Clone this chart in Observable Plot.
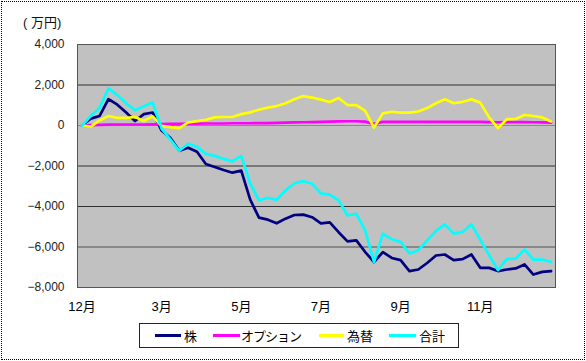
<!DOCTYPE html>
<html><head><meta charset="utf-8">
<script src="https://cdn.jsdelivr.net/npm/d3@7"></script>
<script src="https://cdn.jsdelivr.net/npm/@observablehq/plot@0.6"></script>
<style>
html,body{margin:0;padding:0;background:#fff;}
#wrap{position:relative;width:586px;height:361px;overflow:hidden;font-family:"Liberation Sans","Noto Sans CJK JP",sans-serif;}
#border{position:absolute;left:1px;top:1px;width:584px;height:359px;box-sizing:border-box;border:1px dotted #000;pointer-events:none;}
#chart{position:absolute;left:0;top:0;}
#unit{position:absolute;left:23px;top:14px;font-size:13px;line-height:17px;color:#111;font-family:"Liberation Sans","Noto Sans CJK JP",sans-serif;}
#legend{position:absolute;left:139px;top:323px;width:320px;height:25px;box-sizing:border-box;border:1px solid #222;background:#fff;}
.sw{position:absolute;height:3px;top:10px;}
.lt{position:absolute;top:3px;font-size:13px;line-height:17px;color:#000;font-family:"Noto Sans CJK JP",sans-serif;}
</style>
</head><body>
<div id="wrap">
  <div id="chart"></div>
  <div id="unit">( 万円)</div>
  <div id="legend"></div>
  <div id="border"></div>
</div>
<script>
// x categories: weekly points; labels every 9 points
const tickIdx = [0, 9, 18, 27, 36, 45];
const tickLabels = ["12月", "3月", "5月", "7月", "9月", "11月"];
const yTicks = [4000, 2000, 0, -2000, -4000, -6000, -8000];

const seriesNames = ["株", "オプション", "為替", "合計"];
const seriesColors = ["#000080", "#ff00ff", "#ffff00", "#00ffff"];

const kabu = [0, 340, 470, 1300, 1030, 640, 220, 560, 640, -250, -620, -1250, -1100, -1300, -1900, -2050, -2200, -2330, -2230, -3650, -4550, -4650, -4830, -4600, -4420, -4400, -4530, -4830, -4780, -5270, -5720, -5670, -6250, -6740, -6250, -6540, -6650, -7190, -7110, -6790, -6420, -6370, -6650, -6600, -6370, -7030, -7030, -7190, -7110, -7060, -6860, -7360, -7230, -7190];
const option = [0, 20, 30, 40, 50, 50, 50, 50, 60, 70, 80, 80, 90, 90, 100, 100, 100, 110, 110, 110, 120, 120, 130, 140, 150, 160, 170, 180, 190, 200, 210, 210, 190, 80, 180, 180, 180, 180, 180, 180, 180, 180, 180, 180, 180, 180, 170, 160, 170, 170, 170, 160, 150, 140];
const kawase = [0, -50, 250, 470, 380, 380, 420, 220, 450, -20, -80, -130, 150, 220, 280, 400, 420, 420, 560, 650, 780, 880, 960, 1100, 1300, 1450, 1380, 1280, 1160, 1360, 1010, 1010, 720, -100, 600, 680, 640, 640, 690, 860, 1100, 1300, 1100, 1170, 1290, 1130, 400, -130, 310, 320, 520, 470, 400, 200];
const gokei = [0, 470, 880, 1830, 1500, 1100, 750, 950, 1130, -150, -700, -1250, -900, -1050, -1400, -1500, -1650, -1770, -1500, -2850, -3700, -3570, -3670, -3210, -2850, -2750, -2880, -3350, -3410, -3700, -4440, -4360, -5180, -6740, -5340, -5620, -5750, -6320, -6160, -5670, -5200, -4880, -5340, -5260, -4880, -5650, -6400, -7140, -6590, -6570, -6130, -6620, -6620, -6740];

const weekIndex = kabu.map((_, i) => i);
const rows = [];
[kabu, option, kawase, gokei].forEach((arr, s) => arr.forEach((v, i) => rows.push({i: weekIndex[i], v, s: seriesNames[s]})));

const chart = Plot.plot({
  width: 586,
  height: 361,
  marginLeft: 77,
  marginRight: 31,
  marginTop: 44,
  marginBottom: 74,
  style: {background: "transparent", color: "#000", fontFamily: "'Liberation Sans','Noto Sans CJK JP',sans-serif"},
  x: {type: "point", domain: weekIndex, padding: 0.5},
  y: {domain: [-8000, 4000]},
  color: {domain: seriesNames, range: seriesColors},
  marks: [
    Plot.frame({fill: "url(#dots)", stroke: "none"}),
    Plot.ruleY([2000, -2000, -4000], {stroke: "#303030", strokeWidth: 1}),
    Plot.ruleY([-6000], {stroke: "#505050", strokeWidth: 1}),
    Plot.ruleY([0], {stroke: "#8a8a8a", strokeWidth: 1}),
    Plot.line(rows, {x: "i", y: "v", z: "s", stroke: "s", strokeWidth: 2.7, strokeLinejoin: "round", strokeLinecap: "round"}),
    Plot.frame({stroke: "#555", strokeWidth: 1}),
    Plot.axisY({ticks: yTicks, tickSize: 0, tickPadding: 13, fontSize: 12, fill: "#222",
      tickFormat: d => d3.format(",")(d), label: null}),
    Plot.axisX({ticks: tickIdx, tickSize: 0, tickPadding: 14, fontSize: 13, fill: "#000",
      tickFormat: d => tickLabels[tickIdx.indexOf(d)], label: null})
  ]
});

const svg = d3.select(chart);
const defs = svg.insert("defs", ":first-child");
const pat = defs.append("pattern").attr("id", "dots").attr("patternUnits", "userSpaceOnUse")
  .attr("width", 2).attr("height", 2);
pat.append("rect").attr("width", 2).attr("height", 2).attr("fill", "#cbcbcb");
pat.append("rect").attr("width", 1).attr("height", 1).attr("fill", "#a2a2a2");

document.getElementById("chart").appendChild(chart);

// legend
const legendItems = [
  {name: seriesNames[0], color: seriesColors[0], lx: 15, lw: 26, tx: 44, ls: 0},
  {name: seriesNames[1], color: seriesColors[1], lx: 73, lw: 27, tx: 101, ls: -1},
  {name: seriesNames[2], color: seriesColors[2], lx: 179, lw: 25, tx: 207, ls: 0},
  {name: seriesNames[3], color: seriesColors[3], lx: 249, lw: 27, tx: 279, ls: 0}
];
const lg = document.getElementById("legend");
legendItems.forEach(it => {
  const sw = document.createElement("div");
  sw.className = "sw";
  sw.style.left = it.lx + "px";
  sw.style.width = it.lw + "px";
  sw.style.background = it.color;
  lg.appendChild(sw);
  const t = document.createElement("div");
  t.className = "lt";
  t.style.left = it.tx + "px";
  t.style.letterSpacing = it.ls + "px";
  t.textContent = it.name;
  lg.appendChild(t);
});
</script>
</body></html>
